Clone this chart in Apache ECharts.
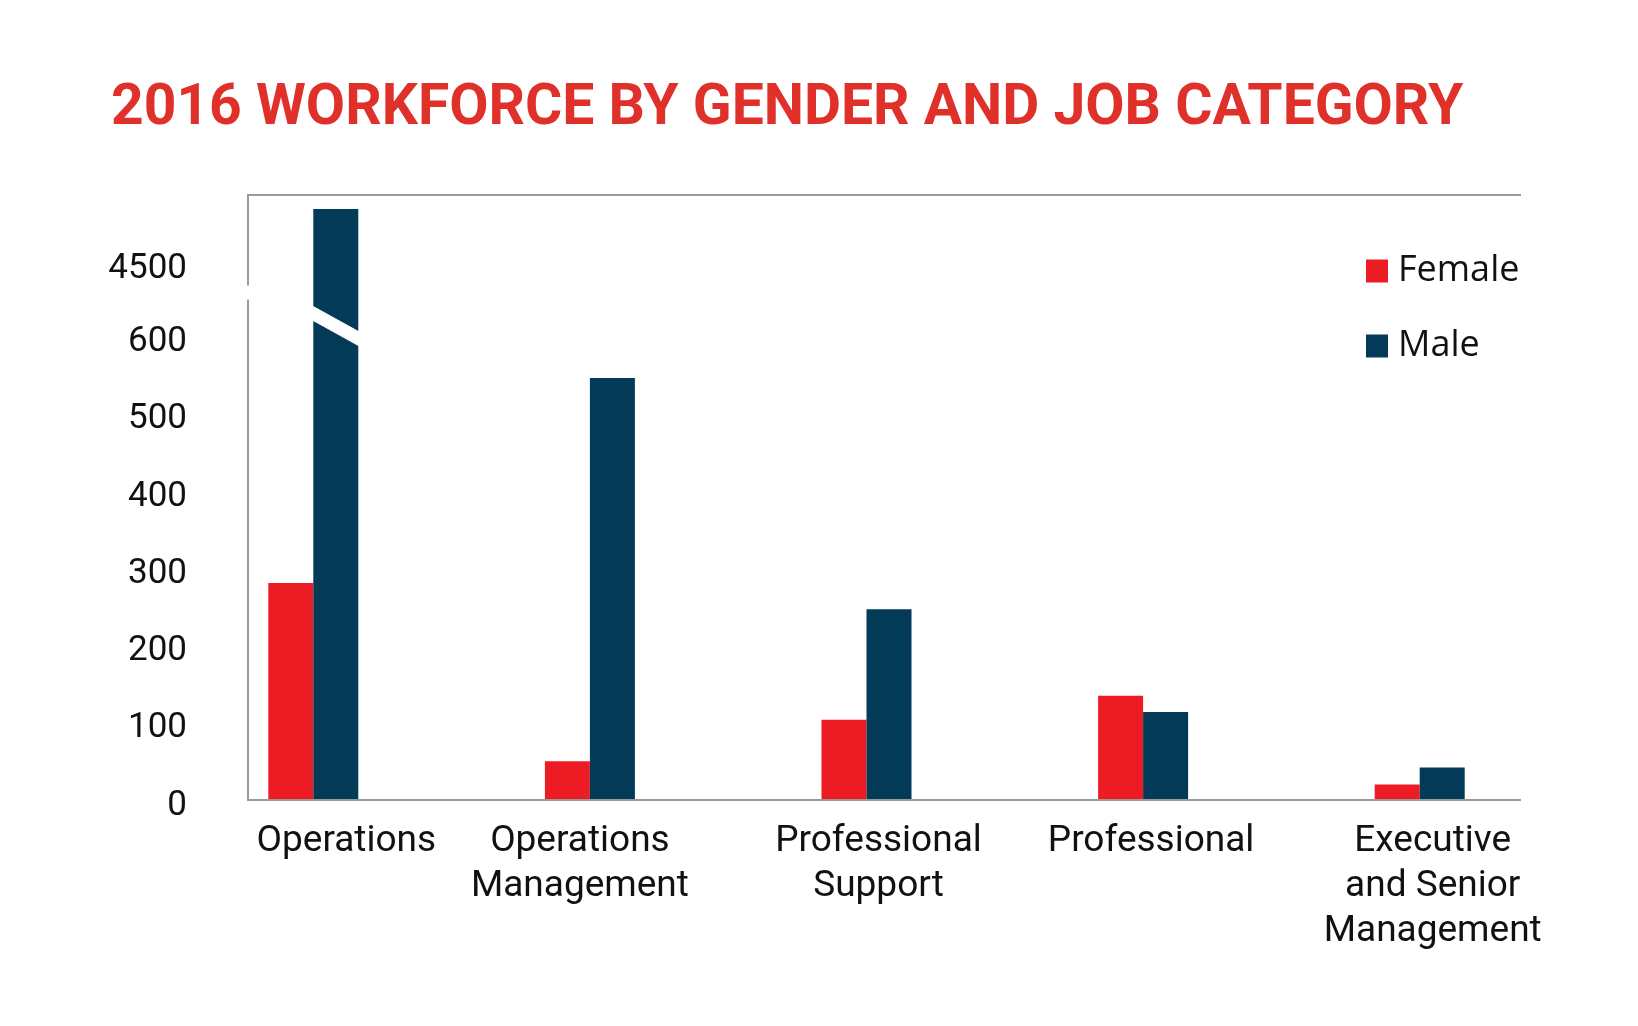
<!DOCTYPE html>
<html>
<head>
<meta charset="utf-8">
<script src="https://cdn.jsdelivr.net/npm/echarts@6/dist/echarts.min.js"></script>
<style>
html,body{margin:0;padding:0;background:#fff;}
#chart{width:1638px;height:1026px;}
</style>
</head>
<body>
<div id="chart"></div>
<script>
const categories = ['Operations', 'Operations\nManagement', 'Professional\nSupport', 'Professional', 'Executive\nand Senior\nManagement'];
const female = [281, 50, 104, 135, 20];
const male = [4570, 546, 247, 114, 42];
const yTickLabels = [0, 100, 200, 300, 400, 500, 600, 4500];
const axisBreak = { start: 600, end: 4500, gap: 95 };

const chart = echarts.init(document.getElementById('chart'));
const GRID_LEFT = 175, GRID_RIGHT = 80, GRID_TOP = 195, GRID_BOTTOM = 226;
const AX_LEFT = 248, AX_RIGHT = 1521;
const AX_TOP = GRID_TOP, AX_BOTTOM = 1026 - GRID_BOTTOM;
const lineColor = '#9a9a9a';
const labelFont = 'Roboto';
const BAR_W = 45;
// horizontal nudge of each category label (px), layout only
const labelPad = [[0, 0, 0, 66], [0, 20, 0, 0], [0, 0, 0, 24], [0, 0, 0, 16], [0, 0, 0, 26]];

const rich = {};
labelPad.forEach(function (p, i) {
  rich['c' + i] = { fontFamily: labelFont, fontSize: 37, color: '#111', lineHeight: 45, padding: p };
});

chart.setOption({
  animation: false,
  backgroundColor: '#fff',
  title: {
    text: '2016 WORKFORCE BY GENDER AND JOB CATEGORY',
    left: 106, top: 76,
    textStyle: { color: '#e0302a', fontFamily: 'Roboto', fontWeight: 'bold', fontSize: 57 }
  },
  legend: {
    orient: 'vertical',
    left: 1361, top: 246,
    itemWidth: 22, itemHeight: 23, itemGap: 35,
    icon: 'rect',
    data: ['Female', 'Male'],
    textStyle: { fontFamily: 'Open Sans', fontSize: 36, color: '#111', lineHeight: 40, padding: [0, 0, 0, 5] }
  },
  grid: { left: GRID_LEFT, right: GRID_RIGHT, top: GRID_TOP, bottom: GRID_BOTTOM, containLabel: false },
  xAxis: {
    type: 'category',
    data: categories,
    axisLine: { show: false },
    axisTick: { show: false },
    axisLabel: {
      interval: 0, margin: 19,
      fontFamily: labelFont, fontSize: 37, color: '#111', lineHeight: 45,
      formatter: function (v, i) {
        return v.split('\n').map(function (s) { return '{c' + i + '|' + s + '}'; }).join('\n');
      },
      rich: rich
    }
  },
  yAxis: {
    type: 'value',
    min: 0, max: 4588, interval: 100,
    offset: -(AX_LEFT - GRID_LEFT),
    breaks: [axisBreak],
    breakArea: { show: false },
    axisLine: { show: false },
    axisTick: { show: false },
    splitLine: { show: false },
    axisLabel: {
      margin: 61, showMaxLabel: false,
      fontFamily: labelFont, fontSize: 35, color: '#111',
      formatter: function (v) { return yTickLabels.indexOf(v) >= 0 ? '{v|' + v + '}' : ''; },
      rich: { v: { fontFamily: labelFont, fontSize: 35, color: '#111', padding: [12, 0, 0, 0] } }
    }
  },
  series: [
    { name: 'Female', type: 'bar', data: female, barWidth: BAR_W, barGap: '0%', itemStyle: { color: '#ed1c24' } },
    { name: 'Male', type: 'bar', data: male, barWidth: BAR_W, barGap: '0%', itemStyle: { color: '#033a57' } }
  ]
});

// frame lines and the axis-break marks, positioned from the axes' own scales
const yBreakLow = chart.convertToPixel({ yAxisIndex: 0 }, axisBreak.start);
const xCat0 = chart.convertToPixel({ xAxisIndex: 0 }, 0);
const gapTop = yBreakLow - 51, gapBottom = yBreakLow - 37;
const cutL = xCat0 - 1, cutR = xCat0 + BAR_W + 1;
const cutTopL = yBreakLow - 31, cutTopR = yBreakLow - 5, cutH = 15;
const lineStyle = { stroke: lineColor, lineWidth: 2 };
chart.setOption({
  graphic: [
    { type: 'line', shape: { x1: AX_LEFT - 1, y1: AX_TOP, x2: AX_RIGHT, y2: AX_TOP }, style: lineStyle, z: 300 },
    { type: 'line', shape: { x1: AX_LEFT - 1, y1: AX_BOTTOM, x2: AX_RIGHT, y2: AX_BOTTOM }, style: lineStyle, z: 300 },
    { type: 'line', shape: { x1: AX_LEFT, y1: AX_TOP - 1, x2: AX_LEFT, y2: gapTop }, style: lineStyle, z: 300 },
    { type: 'line', shape: { x1: AX_LEFT, y1: gapBottom, x2: AX_LEFT, y2: AX_BOTTOM + 1 }, style: lineStyle, z: 300 },
    { type: 'polygon', shape: { points: [[cutL, cutTopL], [cutR, cutTopR], [cutR, cutTopR + cutH], [cutL, cutTopL + cutH]] }, style: { fill: '#fff' }, z: 400 }
  ]
});
</script>
</body>
</html>
